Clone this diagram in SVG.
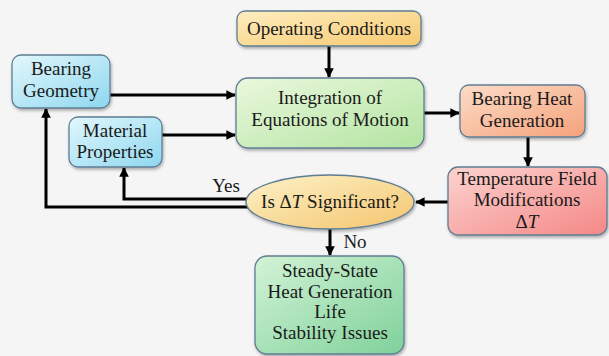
<svg xmlns="http://www.w3.org/2000/svg" width="609" height="356" viewBox="0 0 609 356">
<defs>
<linearGradient id="gY" x1="0" y1="0" x2="1" y2="1"><stop offset="0" stop-color="#fdeec0"/><stop offset="1" stop-color="#f7c970"/></linearGradient>
<linearGradient id="gB" x1="0" y1="0" x2="1" y2="1"><stop offset="0" stop-color="#e2f7fc"/><stop offset="1" stop-color="#8ed7ef"/></linearGradient>
<linearGradient id="gG" x1="0" y1="0" x2="1" y2="1"><stop offset="0" stop-color="#eaf8dc"/><stop offset="1" stop-color="#b3e4a2"/></linearGradient>
<linearGradient id="gO" x1="0" y1="0" x2="1" y2="1"><stop offset="0" stop-color="#fcdcc8"/><stop offset="1" stop-color="#f5a27a"/></linearGradient>
<linearGradient id="gR" x1="0" y1="0" x2="1" y2="1"><stop offset="0" stop-color="#fcd3d0"/><stop offset="1" stop-color="#f48886"/></linearGradient>
<linearGradient id="gE" x1="0" y1="0" x2="1" y2="1"><stop offset="0" stop-color="#fdf2c8"/><stop offset="1" stop-color="#f4c56e"/></linearGradient>
<linearGradient id="gS" x1="0" y1="0" x2="1" y2="1"><stop offset="0" stop-color="#d2f3d6"/><stop offset="1" stop-color="#7fd19a"/></linearGradient>
<filter id="sh" x="-10%" y="-10%" width="130%" height="140%"><feDropShadow dx="1" dy="2" stdDeviation="1.5" flood-color="#000" flood-opacity="0.3"/></filter>
<marker id="ah" viewBox="0 0 10 10" refX="9" refY="5" markerWidth="3.6" markerHeight="3.2" orient="auto" markerUnits="strokeWidth"><path d="M0,0 L10,5 L0,10 Z" fill="#000"/></marker>
</defs>
<style>
.box{stroke:#5f7d93;stroke-width:1.3;filter:url(#sh)}
.t{font-family:"Liberation Serif","Times New Roman",serif;font-size:19px;fill:#1a1a1a;text-anchor:middle}
.c{fill:none;stroke:#000;stroke-width:3;marker-end:url(#ah)}
.cn{fill:none;stroke:#000;stroke-width:3}
</style>
<rect width="609" height="356" fill="#f5f5f5"/>
<g id="connectors">
<path class="c" d="M329,46 V77"/>
<path class="c" d="M110,95 H235"/>
<path class="c" d="M162,135 H235"/>
<path class="c" d="M424,113 H459"/>
<path class="c" d="M528,137 V166"/>
<path class="c" d="M448,202 H416"/>
<path class="c" d="M252,207 H46 V109"/>
<path class="c" d="M252,199 H124 V168"/>
<path class="c" d="M330,229 V255"/>
<text class="t" x="226" y="192">Yes</text>
<text class="t" x="355" y="248">No</text>
</g>
<g id="operating">
<rect class="box" x="237" y="11" width="184" height="35" rx="8" fill="url(#gY)"/>
<text class="t" x="329" y="35">Operating Conditions</text>
</g>
<g id="geometry">
<rect class="box" x="12" y="55" width="98" height="53" rx="9" fill="url(#gB)"/>
<text class="t" x="61" y="75">Bearing</text>
<text class="t" x="61" y="97">Geometry</text>
</g>
<g id="material">
<rect class="box" x="69" y="117" width="93" height="50" rx="9" fill="url(#gB)"/>
<text class="t" x="115" y="137">Material</text>
<text class="t" x="115" y="158">Properties</text>
</g>
<g id="integration">
<rect class="box" x="236" y="78" width="188" height="70" rx="12" fill="url(#gG)"/>
<text class="t" x="330" y="104">Integration of</text>
<text class="t" x="330" y="126">Equations of Motion</text>
</g>
<g id="heat">
<rect class="box" x="460" y="85" width="125" height="52" rx="9" fill="url(#gO)"/>
<text class="t" x="522" y="105">Bearing Heat</text>
<text class="t" x="522" y="127">Generation</text>
</g>
<g id="temperature">
<rect class="box" x="448" y="167" width="159" height="68" rx="10" fill="url(#gR)"/>
<text class="t" x="527" y="185">Temperature Field</text>
<text class="t" x="527" y="206">Modifications</text>
<text class="t" x="527" y="228">Δ<tspan font-style="italic">T</tspan></text>
</g>
<g id="decision">
<ellipse class="box" cx="330" cy="202" rx="84" ry="27" fill="url(#gE)"/>
<text class="t" x="330" y="208">Is Δ<tspan font-style="italic">T</tspan> Significant?</text>
</g>
<g id="steady">
<rect class="box" x="255" y="256" width="149" height="98" rx="12" fill="url(#gS)"/>
<text class="t" x="330" y="277">Steady-State</text>
<text class="t" x="330" y="298">Heat Generation</text>
<text class="t" x="330" y="318">Life</text>
<text class="t" x="330" y="339">Stability Issues</text>
</g>
</svg>
